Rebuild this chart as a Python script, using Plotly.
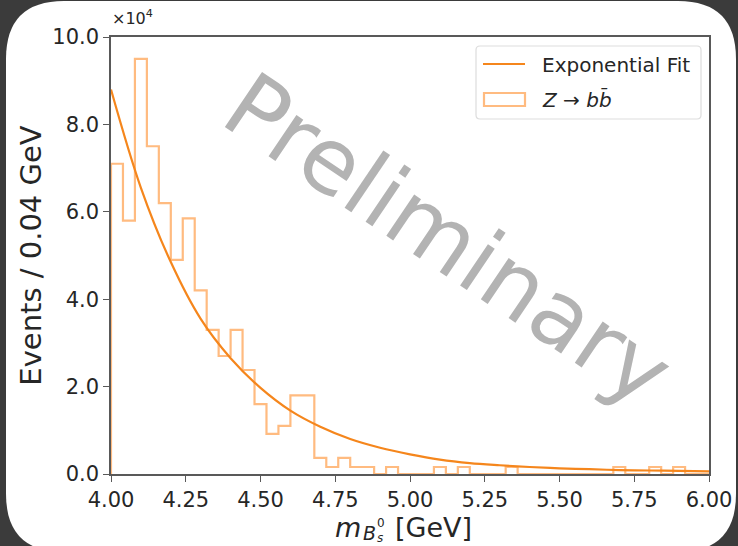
import plotly.graph_objects as go

# Histogram of the B_s^0 candidate mass, 0.04 GeV bins from 4.00 to 6.00 GeV
bin_edges = [4.00, 4.04, 4.08, 4.12, 4.16, 4.20, 4.24, 4.28, 4.32, 4.36,
             4.40, 4.44, 4.48, 4.52, 4.56, 4.60, 4.64, 4.68, 4.72, 4.76,
             4.80, 4.84, 4.88, 4.92, 4.96, 5.00, 5.04, 5.08, 5.12, 5.16,
             5.20, 5.24, 5.28, 5.32, 5.36, 5.40, 5.44, 5.48, 5.52, 5.56,
             5.60, 5.64, 5.68, 5.72, 5.76, 5.80, 5.84, 5.88, 5.92, 5.96,
             6.00]
# events per bin, in units of 10^4
bin_counts = [7.10, 5.80, 9.50, 7.50, 6.20, 4.90, 5.85, 4.20, 3.30, 2.70,
              3.30, 2.38, 1.60, 0.92, 1.10, 1.80, 1.80, 0.37, 0.16, 0.37,
              0.16, 0.16, 0.00, 0.16, 0.00, 0.00, 0.00, 0.16, 0.00, 0.16,
              0.00, 0.00, 0.00, 0.16, 0.00, 0.00, 0.00, 0.00, 0.00, 0.00,
              0.00, 0.00, 0.16, 0.00, 0.00, 0.16, 0.00, 0.16, 0.00, 0.00]

# exponential fit curve, sampled every 0.1 GeV (units of 10^4)
fit_x = [4.0, 4.1, 4.2, 4.3, 4.4, 4.5, 4.6, 4.7, 4.8, 4.9, 5.0,
         5.1, 5.2, 5.3, 5.4, 5.5, 5.6, 5.7, 5.8, 5.9, 6.0]
fit_y = [8.80, 6.55, 4.85, 3.55, 2.65, 1.97, 1.45, 1.08, 0.80, 0.60, 0.45,
         0.33, 0.25, 0.20, 0.16, 0.13, 0.11, 0.09, 0.08, 0.07, 0.06]

y_ticks = [0, 2, 4, 6, 8, 10]
x_ticks = [4.00, 4.25, 4.50, 4.75, 5.00, 5.25, 5.50, 5.75, 6.00]

HIST_COLOR = "#ffbb80"
FIT_COLOR = "#f5861c"
TEXT_COLOR = "#262626"
FONT = "DejaVu Sans"

W, H = 738, 546
ML, MR, MT, MB = 111, 29, 37, 72
PW, PH = W - ML - MR, H - MT - MB


def px(x):
    return (x - ML) / PW


def py(y):
    return (H - MB - y) / PH


# step outline of the histogram
step_x = [bin_edges[0]] + bin_edges[:-1] + [bin_edges[-1]]
step_y = [0] + bin_counts + [0]

fig = go.Figure()
fig.add_trace(go.Scatter(
    x=step_x, y=step_y, mode="lines", line_shape="hv",
    line=dict(color=HIST_COLOR, width=2.2), showlegend=False,
    hoverinfo="skip"))
fig.add_trace(go.Scatter(
    x=fit_x, y=fit_y, mode="lines", line_shape="spline",
    line=dict(color=FIT_COLOR, width=2.2), showlegend=False))


def rounded_rect(x0, y0, x1, y1, r):
    # pixel rectangle with rounded corners -> paper-coordinate SVG path
    pts = [
        f"M{px(x0 + r)},{py(y0)}",
        f"L{px(x1 - r)},{py(y0)}",
        f"Q{px(x1)},{py(y0)} {px(x1)},{py(y0 + r)}",
        f"L{px(x1)},{py(y1 - r)}",
        f"Q{px(x1)},{py(y1)} {px(x1 - r)},{py(y1)}",
        f"L{px(x0 + r)},{py(y1)}",
        f"Q{px(x0)},{py(y1)} {px(x0)},{py(y1 - r)}",
        f"L{px(x0)},{py(y0 + r)}",
        f"Q{px(x0)},{py(y0)} {px(x0 + r)},{py(y0)}",
        "Z",
    ]
    return " ".join(pts)


shapes = [
    # white slide panel
    dict(type="path", xref="paper", yref="paper", layer="below",
         path=rounded_rect(6, 1, 736, 552, 58),
         fillcolor="white", line=dict(width=0)),
    # legend frame
    dict(type="path", xref="paper", yref="paper",
         path=rounded_rect(476, 46, 701, 119, 4),
         fillcolor="rgba(255,255,255,0.85)",
         line=dict(color="#dddddd", width=1.2)),
    # legend sample: fit line
    dict(type="line", xref="paper", yref="paper",
         x0=px(483), x1=px(525), y0=py(64), y1=py(64),
         line=dict(color=FIT_COLOR, width=2.2)),
    # legend sample: histogram box
    dict(type="rect", xref="paper", yref="paper",
         x0=px(484), x1=px(525), y0=py(93), y1=py(106),
         line=dict(color=HIST_COLOR, width=2.2), fillcolor="rgba(0,0,0,0)"),
]


def label(text, x, y, size, xanchor="left", yanchor="middle", **kw):
    return dict(text=text, x=px(x), y=py(y), xref="paper", yref="paper",
                xanchor=xanchor, yanchor=yanchor, showarrow=False,
                borderpad=0,
                font=dict(family=FONT, size=size,
                          color=kw.pop("color", TEXT_COLOR)), **kw)


annotations = [
    label("Exponential Fit", 541, 65, 20),
    label("<i>Z</i> \u2192 <i>b</i><i>b\u0304</i>", 541, 99, 20),
    # axis offset text
    label("\u00d710<sup>4</sup>", 111, 29, 16, yanchor="bottom"),
    # x-axis title: m_{B_s^0} [GeV]
    label("<i>m</i>", 362, 527, 27, xanchor="right"),
    label("<i>B</i>", 362, 533, 19),
    label("0", 376, 523, 12),
    label("<i>s</i>", 376, 538, 12),
    label("[GeV]", 394, 527, 27),
    # watermark
    label("Preliminary", 448, 240, 91, xanchor="center", textangle=34,
          color="#b3b3b3"),
]

axis_common = dict(
    showline=True, linecolor="#595959", linewidth=1.5, mirror=True,
    ticks="outside", ticklen=6, tickwidth=1.3, tickcolor="#595959",
    showgrid=False, zeroline=False, automargin=False,
    tickfont=dict(family=FONT, size=21, color=TEXT_COLOR),
)

fig.update_layout(
    width=W, height=H,
    margin=dict(l=ML, r=MR, t=MT, b=MB, pad=0),
    paper_bgcolor="#3b3b3b", plot_bgcolor="white",
    showlegend=False,
    shapes=shapes, annotations=annotations,
    xaxis=dict(range=[4.0, 6.0], tickvals=x_ticks, tickformat=".2f",
               **axis_common),
    yaxis=dict(range=[0, 10], tickvals=y_ticks, tickformat=".1f",
               title=dict(text="Events / 0.04 GeV",
                          font=dict(family=FONT, size=29, color=TEXT_COLOR),
                          standoff=2),
               **axis_common),
)

fig.write_html("out.html")
